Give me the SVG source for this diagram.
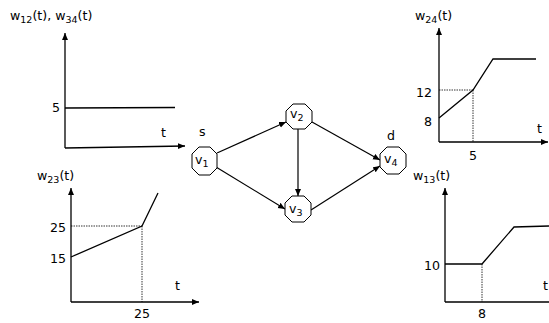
<svg xmlns="http://www.w3.org/2000/svg" width="549" height="323" viewBox="0 0 549 323">
<style>
text{font-family:"DejaVu Sans",Verdana,sans-serif;font-size:12.6px;fill:#000}
.ax{stroke:#000;stroke-width:1.3;fill:none}
.ln{stroke:#000;stroke-width:1.3;fill:none}
.dt{stroke:#000;stroke-width:0.8;stroke-dasharray:1.5,1;fill:none}
.nd{fill:#fff;stroke:#000;stroke-width:1}
.ed{stroke:#000;stroke-width:1.2;fill:none;marker-end:url(#ah)}
.sub{font-size:9.5px}
</style>
<defs>
<marker id="ah" markerWidth="8" markerHeight="8" refX="7" refY="3" orient="auto" markerUnits="userSpaceOnUse"><path d="M0,0 L7,3 L0,6 z" fill="#000"/></marker>
<marker id="ax" markerWidth="8" markerHeight="8" refX="7" refY="3" orient="auto" markerUnits="userSpaceOnUse"><path d="M0,0 L7,3 L0,6 z" fill="#000"/></marker>
</defs>
<g id="chart-w12-w34">
<text x="10" y="20">w<tspan class="sub" dy="3">12</tspan><tspan dy="-3">(t), w</tspan><tspan class="sub" dy="3">34</tspan><tspan dy="-3">(t)</tspan></text>
<path class="ax" d="M65,148 L65,33" marker-end="url(#ax)"/>
<path class="ax" d="M65,148 L185,146" marker-end="url(#ax)"/>
<path class="ln" d="M65,108 L175,107.5"/>
<text x="52" y="112">5</text>
<text x="161" y="137">t</text>
</g>
<g id="chart-w23">
<text x="37" y="180">w<tspan class="sub" dy="3">23</tspan><tspan dy="-3">(t)</tspan></text>
<path class="ax" d="M71,302 L71,188" marker-end="url(#ax)"/>
<path class="ax" d="M71,302 L199,302" marker-end="url(#ax)"/>
<path class="dt" d="M71,226 L142,226 M142,226 L142,302"/>
<path class="ln" d="M71,257 L142,226 L158,193"/>
<text x="50" y="232">25</text>
<text x="50" y="263">15</text>
<text x="134" y="318">25</text>
<text x="175" y="290">t</text>
</g>
<g id="chart-w24">
<text x="415" y="20">w<tspan class="sub" dy="3">24</tspan><tspan dy="-3">(t)</tspan></text>
<path class="ax" d="M439,142 L439,28" marker-end="url(#ax)"/>
<path class="ax" d="M439,142 L548,142" marker-end="url(#ax)"/>
<path class="dt" d="M439,90 L473,90 M473,90 L473,142"/>
<path class="ln" d="M439,118 L473,90 L493,59 L536,59"/>
<text x="416" y="97">12</text>
<text x="424" y="126">8</text>
<text x="469" y="160">5</text>
<text x="537" y="133">t</text>
</g>
<g id="chart-w13">
<text x="413" y="180">w<tspan class="sub" dy="3">13</tspan><tspan dy="-3">(t)</tspan></text>
<path class="ax" d="M445,302 L445,188" marker-end="url(#ax)"/>
<path class="ax" d="M445,302 L552,302"/>
<path class="dt" d="M482,264 L482,302"/>
<path class="ln" d="M445,264 L482,264 L514,227 L549,226"/>
<text x="424" y="270">10</text>
<text x="478" y="318">8</text>
<text x="543" y="290">t</text>
</g>
<g id="connectors">
<path class="ed" d="M217,153 L286,122"/>
<path class="ed" d="M216,167 L285,209"/>
<path class="ed" d="M298,129 L298,196"/>
<path class="ed" d="M312,122 L380,160"/>
<path class="ed" d="M311,210 L380,166"/>
</g>
<g id="v1">
<path class="nd" d="M199,147 L210,147 L217,154 L217,168 L210,175 L199,175 L192,168 L192,154 z"/>
<text x="195" y="164">v<tspan class="sub" dy="3">1</tspan></text>
<text x="199" y="136">s</text>
</g>
<g id="v2">
<path class="nd" d="M293,104 L305,104 L312,111 L312,122 L305,129 L293,129 L286,122 L286,111 z"/>
<text x="290" y="118">v<tspan class="sub" dy="3">2</tspan></text>
</g>
<g id="v3">
<path class="nd" d="M292,196 L304,196 L311,203 L311,215 L304,222 L292,222 L285,215 L285,203 z"/>
<text x="289" y="213">v<tspan class="sub" dy="3">3</tspan></text>
</g>
<g id="v4">
<path class="nd" d="M387,147 L399,147 L406,154 L406,167 L399,174 L387,174 L380,167 L380,154 z"/>
<text x="384" y="163">v<tspan class="sub" dy="3">4</tspan></text>
<text x="387" y="140">d</text>
</g>
</svg>
